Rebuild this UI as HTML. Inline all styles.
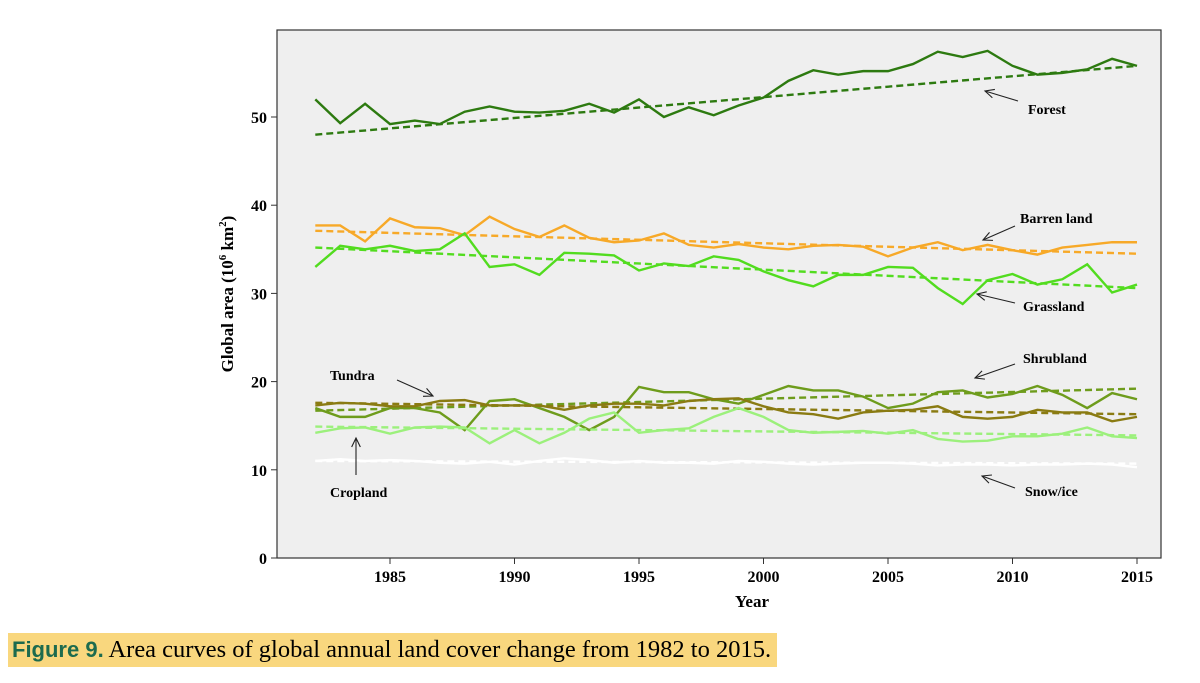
<!DOCTYPE html>
<html><head><meta charset="utf-8"><style>
body{margin:0;background:#fff;width:1200px;height:683px;overflow:hidden;font-family:"Liberation Serif",serif}
.cap{position:absolute;left:8px;top:633px;width:769px;height:34px;background:#f9d77e;font-size:24.5px;line-height:34px;padding-left:4px;box-sizing:border-box;white-space:nowrap}
.cap b{font-family:"Liberation Sans",sans-serif;color:#1d6b4e;font-size:22px}
</style></head><body>
<svg id="chart" width="1200" height="630" style="position:absolute;left:0;top:0" font-family="Liberation Serif, serif"></svg>
<div class="cap"><b>Figure 9.</b> Area curves of global annual land cover change from 1982 to 2015.</div>
<script>
const years=[];for(let y=1982;y<=2015;y++)years.push(y);
const forest=[52,49.3,51.5,49.2,49.6,49.2,50.6,51.2,50.6,50.5,50.7,51.5,50.5,52,50,51.1,50.2,51.3,52.2,54.1,55.3,54.8,55.2,55.2,56,57.4,56.8,57.5,55.8,54.8,55,55.4,56.6,55.8];
const barren=[37.7,37.7,35.9,38.5,37.5,37.4,36.6,38.7,37.3,36.4,37.7,36.3,35.8,36,36.8,35.5,35.2,35.6,35.2,35,35.4,35.5,35.3,34.2,35.2,35.8,34.9,35.5,34.9,34.4,35.2,35.5,35.8,35.8];
const grass=[33,35.4,35,35.4,34.8,35,36.8,33,33.3,32.1,34.6,34.5,34.3,32.6,33.4,33.1,34.2,33.8,32.5,31.5,30.8,32.1,32.1,33,32.9,30.6,28.8,31.5,32.2,31,31.6,33.3,30.1,31];
const shrub=[17,16,16,17,17,16.5,14.5,17.8,18,17,16,14.5,16,19.4,18.8,18.8,18,17.5,18.5,19.5,19,19,18.3,17,17.5,18.8,19,18.2,18.6,19.5,18.5,17,18.7,18];
const tundra=[17.3,17.6,17.5,17.2,17.2,17.8,17.9,17.3,17.3,17.3,16.8,17.3,17.5,17.5,17.3,17.8,18,18.1,17.2,16.5,16.3,15.8,16.5,16.7,16.8,17.2,16,15.8,16,16.8,16.5,16.5,15.5,16];
const crop=[14.2,14.7,14.8,14.1,14.8,14.9,14.8,13,14.5,13,14.2,15.8,16.5,14.2,14.5,14.7,16,17,16,14.5,14.2,14.3,14.4,14.1,14.5,13.5,13.2,13.3,13.8,13.8,14.1,14.8,13.8,13.6];
const snow=[11,11.2,11,11.1,11,10.8,10.7,10.9,10.6,11,11.3,11.1,10.8,11,10.8,10.8,10.7,11,10.9,10.7,10.6,10.7,10.8,10.8,10.7,10.5,10.6,10.6,10.5,10.6,10.6,10.7,10.6,10.3];
const trendStart=[48,37.1,35.2,16.7,17.6,14.9,11];
const trendEnd=[55.8,34.5,30.6,19.2,16.3,13.9,10.7];
const yTicks=[0,10,20,30,40,50];
const xTicks=[1985,1990,1995,2000,2005,2010,2015];
const L=277,R=1161,T=30,B=558;
const X=y=>390+(y-1985)*(1137-390)/30;
const Y=v=>B-v*8.82;
const svg=document.getElementById('chart');const NS='http://www.w3.org/2000/svg';
function mk(t,a,p){const e=document.createElementNS(NS,t);for(const k in a)e.setAttribute(k,a[k]);(p||svg).appendChild(e);return e;}
const bg=mk('rect',{x:L,y:T,width:R-L,height:B-T,fill:'#efefef',stroke:'#333','stroke-width':1.2});


yTicks.forEach(v=>{mk('line',{x1:L-6,x2:L,y1:Y(v),y2:Y(v),stroke:'#333'});
 const t=mk('text',{x:L-10,y:Y(v)+6,'text-anchor':'end','font-size':16,'font-weight':'bold'});t.textContent=v;
 
 });
xTicks.forEach(v=>{mk('line',{x1:X(v),x2:X(v),y1:B,y2:B+6,stroke:'#333'});
 const t=mk('text',{x:X(v),y:B+24,'text-anchor':'middle','font-size':16,'font-weight':'bold'});t.textContent=v;
 
 });
const xt=mk('text',{x:752,y:607,'text-anchor':'middle','font-size':17,'font-weight':'bold'});xt.textContent='Year';


const yt=mk('text',{x:0,y:0,'text-anchor':'middle','font-size':17,'font-weight':'bold',transform:'translate(233,294) rotate(-90)'});
yt.innerHTML='Global area (10<tspan font-size="11" dy="-7">6</tspan><tspan dy="7"> km</tspan><tspan font-size="11" dy="-7">2</tspan><tspan dy="7">)</tspan>';


const series=[['forest',forest,'#2d7a10'],['barren',barren,'#f7a928'],['grassland',grass,'#52dc1f'],['shrubland',shrub,'#6e9c1c'],['tundra',tundra,'#8a7b12'],['cropland',crop,'#9cf07c'],['snow-ice',snow,'#ffffff']];
series.forEach(([n,d,c],k)=>{
 const p=mk('polyline',{points:d.map((v,i)=>X(years[i])+','+Y(v)).join(' '),fill:'none',stroke:c,'stroke-width':2.4});
 
 
 const tl=mk('line',{x1:X(years[0]),y1:Y(trendStart[k]),x2:X(years[years.length-1]),y2:Y(trendEnd[k]),stroke:c,'stroke-width':2.4,'stroke-dasharray':'7,4'});
 
 
});
const ann=[['Forest',1028,114,1018,101,985,91],['Barren land',1020,223,1015,226,983,240],['Grassland',1023,311,1015,303,977,294],['Shrubland',1023,363,1015,364,975,378],['Tundra',330,380,397,380,433,396],['Cropland',330,497,356,475,356,438],['Snow/ice',1025,496,1015,488,982,476]];
ann.forEach(([t,tx,ty,x1,y1,x2,y2])=>{
 const e=mk('text',{x:tx,y:ty,'font-size':14,'font-weight':'bold'});e.textContent=t;
 
 
 const g=mk('g',{stroke:'#222','stroke-width':1.1,fill:'none'});
 
 
 mk('line',{x1:x1,y1:y1,x2:x2,y2:y2},g);
 const a=Math.atan2(y1-y2,x1-x2),h=10,s=0.45;
 mk('polyline',{points:(x2+h*Math.cos(a+s))+','+(y2+h*Math.sin(a+s))+' '+x2+','+y2+' '+(x2+h*Math.cos(a-s))+','+(y2+h*Math.sin(a-s))},g);
});
</script>
</body></html>
